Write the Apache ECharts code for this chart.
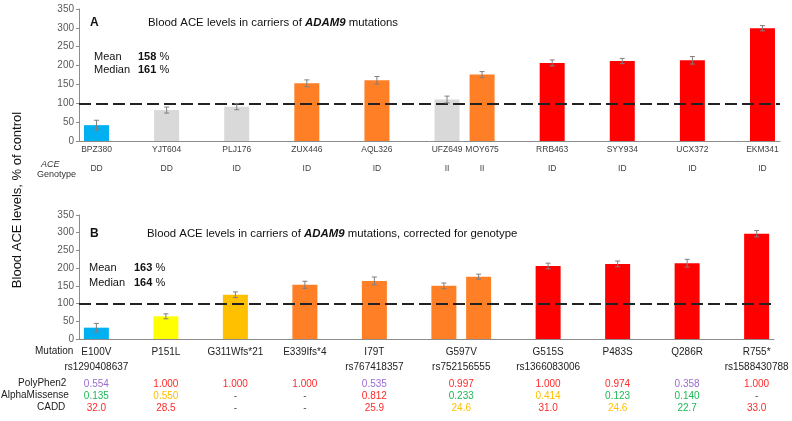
<!DOCTYPE html>
<html>
<head>
<meta charset="utf-8">
<script src="https://cdn.jsdelivr.net/npm/echarts@6/dist/echarts.min.js"></script>
<style>
  html, body { margin: 0; padding: 0; background: #fff; }
  #chart { width: 792px; height: 421px; }
</style>
</head>
<body>
<div id="chart"></div>
<script>
// panel A: one slot per sample, '' = empty slot between bars
const topSlots = ['BPZ380', '', 'YJT604', '', 'PLJ176', '', 'ZUX446', '', 'AQL326', '',
  'UFZ649', 'MOY675', '', 'RRB463', '', 'SYY934', '', 'UCX372', '', 'EKM341']
const topValues = [42, 82, 91, 153, 161, 110, 176, 207, 212, 214, 299]
const topErrors = [13, 8, 8, 9, 10, 9, 8, 8, 7, 10, 7]
const topGenotype = ['DD', 'DD', 'ID', 'ID', 'ID', 'II', 'II', 'ID', 'ID', 'ID', 'ID']
const topColors = ['#00B0F0', '#D9D9D9', '#D9D9D9', '#FF7F27', '#FF7F27', '#D9D9D9',
  '#FF7F27', '#FF0000', '#FF0000', '#FF0000', '#FF0000']
const topMean = 158
const topMedian = 161

// panel B
const bottomSlots = ['E100V', '', 'P151L', '', 'G311Wfs*21', '', 'E339Ifs*4', '', 'I79T', '',
  'G597V', 'G597V', '', 'G515S', '', 'P483S', '', 'Q286R', '', 'R755*']
const bottomValues = [32, 64, 125, 153, 164, 150, 176, 206, 212, 214, 297]
const bottomErrors = [12, 7, 8, 10, 11, 8, 7, 8, 8, 11, 9]
const bottomColors = ['#00B0F0', '#FFFF00', '#FFC000', '#FF7F27', '#FF7F27', '#FF7F27',
  '#FF7F27', '#FF0000', '#FF0000', '#FF0000', '#FF0000']
const bottomMean = 163
const bottomMedian = 164

const mutations = ['E100V', 'P151L', 'G311Wfs*21', 'E339Ifs*4', 'I79T', 'G597V', 'G515S', 'P483S', 'Q286R', 'R755*']
const rsIds = ['rs1290408637', '', '', '', 'rs767418357', 'rs752156555', 'rs1366083006', '', '', 'rs1588430788']
const polyphen = ['0.554', '1.000', '1.000', '1.000', '0.535', '0.997', '1.000', '0.974', '0.358', '1.000']
const polyTone = ['p', 'r', 'r', 'r', 'p', 'r', 'r', 'r', 'p', 'r']
const alphaMissense = ['0.135', '0.550', '-', '-', '0.812', '0.233', '0.414', '0.123', '0.140', '-']
const alphaTone = ['g', 'y', 'n', 'n', 'r', 'g', 'y', 'g', 'g', 'n']
const cadd = ['32.0', '28.5', '-', '-', '25.9', '24.6', '31.0', '24.6', '22.7', '33.0']
const caddTone = ['r', 'r', 'n', 'n', 'r', 'y', 'r', 'y', 'g', 'r']

const FONT = 'Liberation Sans, Arial, sans-serif'
const toneColors = { p: '#9B6BD0', r: '#FF2A2A', g: '#1DB954', y: '#FFC000', n: '#555', k: '#222' }

// spread per-sample values over the slots
const toSlots = (slots, vals) => {
  let i = 0
  return slots.map(s => (s === '' ? '-' : vals[i++]))
}
const barData = (slots, vals, colors) => {
  let i = 0
  return slots.map(s => {
    if (s === '') return '-'
    const v = { value: vals[i], itemStyle: { color: colors[i] } }
    i++
    return v
  })
}
const errData = (slots, vals, errs) => {
  const out = []
  let i = 0
  slots.forEach((s, k) => {
    if (s === '') return
    out.push([k, vals[i] - errs[i], vals[i] + errs[i]])
    i++
  })
  return out
}

// label rows of panel B sit on a 41-point axis (boundaryGap false), centred on their bars
const bottomPoints = Array.from({ length: 41 }, (_, i) => String(i))
const rowPoint = mutations.map(m => {
  const ks = []
  bottomSlots.forEach((s, k) => { if (s === m) ks.push(2 * k + 1) })
  return ks.reduce((a, b) => a + b, 0) / ks.length
})
const rowLabels = (vals, tones) => {
  const out = new Array(41).fill('')
  mutations.forEach((m, i) => {
    if (vals[i] === '') return
    out[rowPoint[i]] = '{' + (tones ? tones[i] : 'k') + '|' + vals[i] + '}'
  })
  return out
}

const rich = {}
Object.keys(toneColors).forEach(k => {
  rich[k] = { color: toneColors[k], fontSize: 10, fontFamily: FONT, lineHeight: 12 }
})

const renderErr = (params, api) => {
  const lo = api.coord([api.value(0), api.value(1)])
  const hi = api.coord([api.value(0), api.value(2)])
  const style = { stroke: '#7F7F7F', lineWidth: 1 }
  return {
    type: 'group',
    children: [
      { type: 'line', shape: { x1: lo[0], y1: lo[1], x2: hi[0], y2: hi[1] }, style },
      { type: 'line', shape: { x1: lo[0] - 2.5, y1: lo[1], x2: lo[0] + 2.5, y2: lo[1] }, style },
      { type: 'line', shape: { x1: hi[0] - 2.5, y1: hi[1], x2: hi[0] + 2.5, y2: hi[1] }, style }
    ]
  }
}

const yAxisBase = {
  type: 'value',
  min: 0,
  max: 350,
  interval: 50,
  axisLine: { show: true, lineStyle: { color: '#8C8C8C' } },
  axisTick: { show: true, length: 3, lineStyle: { color: '#8C8C8C' } },
  axisLabel: { fontSize: 10, color: '#595959', fontFamily: FONT, margin: 5 },
  splitLine: { show: false }
}

const refLine = {
  silent: true,
  symbol: ['none', 'none'],
  label: { show: false },
  lineStyle: { color: '#222', width: 2, type: [12, 5] },
  data: [{ yAxis: 100 }]
}

const labelAxis = (grid, data, offset) => ({
  type: 'category',
  gridIndex: grid,
  data,
  boundaryGap: false,
  position: 'bottom',
  offset,
  axisLine: { show: false },
  axisTick: { show: false },
  axisLabel: { interval: 0, margin: 0, formatter: v => v, rich }
})

const chart = echarts.init(document.getElementById('chart'))

const option = {
  animation: false,
  textStyle: { fontFamily: FONT },
  grid: [
    { left: 79, top: 9, width: 701, height: 132 },
    { left: 79, top: 215, width: 695, height: 124 }
  ],
  xAxis: [
    {
      type: 'category',
      gridIndex: 0,
      data: topSlots,
      axisLine: { lineStyle: { color: '#8C8C8C' } },
      axisTick: { show: false },
      axisLabel: { interval: 0, fontSize: 8.5, color: '#404040', margin: 4, fontFamily: FONT }
    },
    {
      type: 'category',
      gridIndex: 0,
      data: toSlots(topSlots, topGenotype).map(v => (v === '-' ? '' : v)),
      position: 'bottom',
      offset: 19,
      axisLine: { show: false },
      axisTick: { show: false },
      axisLabel: { interval: 0, fontSize: 8.5, color: '#404040', margin: 4, fontFamily: FONT }
    },
    {
      type: 'category',
      gridIndex: 1,
      data: bottomSlots.map((s, k) => s + '#' + k),
      axisLine: { lineStyle: { color: '#8C8C8C' } },
      axisTick: { show: false },
      axisLabel: { show: false }
    },
    labelAxis(1, rowLabels(mutations, null), 7),
    labelAxis(1, rowLabels(rsIds, null), 22),
    labelAxis(1, rowLabels(polyphen, polyTone), 39),
    labelAxis(1, rowLabels(alphaMissense, alphaTone), 51),
    labelAxis(1, rowLabels(cadd, caddTone), 63)
  ],
  yAxis: [
    Object.assign({ gridIndex: 0 }, yAxisBase),
    Object.assign({ gridIndex: 1 }, yAxisBase)
  ],
  series: [
    {
      type: 'bar',
      xAxisIndex: 0,
      yAxisIndex: 0,
      barWidth: 25,
      data: barData(topSlots, topValues, topColors),
      markLine: refLine
    },
    {
      type: 'custom',
      xAxisIndex: 0,
      yAxisIndex: 0,
      renderItem: renderErr,
      encode: { x: 0, y: [1, 2] },
      data: errData(topSlots, topValues, topErrors),
      z: 5
    },
    {
      type: 'bar',
      xAxisIndex: 2,
      yAxisIndex: 1,
      barWidth: 25,
      data: barData(bottomSlots, bottomValues, bottomColors),
      markLine: refLine
    },
    {
      type: 'custom',
      xAxisIndex: 2,
      yAxisIndex: 1,
      renderItem: renderErr,
      encode: { x: 0, y: [1, 2] },
      data: errData(bottomSlots, bottomValues, bottomErrors),
      z: 5
    }
  ],
  graphic: [
    {
      type: 'text', left: 90, top: 17,
      style: { text: 'A', font: 'bold 12px ' + FONT, fill: '#111' }
    },
    {
      type: 'text', left: 148, top: 17,
      style: {
        text: 'Blood ACE levels in carriers of {g|ADAM9} mutations',
        font: '11.4px ' + FONT, fill: '#111',
        rich: { g: { fontStyle: 'italic', fontWeight: 'bold', fontSize: 11.4, fontFamily: FONT, fill: '#111' } }
      }
    },
    { type: 'text', left: 94, top: 51, style: { text: 'Mean', font: '11px ' + FONT, fill: '#111' } },
    {
      type: 'text', left: 138, top: 51,
      style: { text: '{b|' + topMean + '} %', font: '11px ' + FONT, fill: '#111',
        rich: { b: { fontWeight: 'bold', fontSize: 11, fontFamily: FONT, fill: '#111' } } }
    },
    { type: 'text', left: 94, top: 64, style: { text: 'Median', font: '11px ' + FONT, fill: '#111' } },
    {
      type: 'text', left: 138, top: 64,
      style: { text: '{b|' + topMedian + '} %', font: '11px ' + FONT, fill: '#111',
        rich: { b: { fontWeight: 'bold', fontSize: 11, fontFamily: FONT, fill: '#111' } } }
    },
    { type: 'text', left: 41, top: 160, style: { text: 'ACE', font: 'italic 9px ' + FONT, fill: '#333' } },
    { type: 'text', left: 37, top: 170, style: { text: 'Genotype', font: '9px ' + FONT, fill: '#333' } },
    {
      type: 'text', left: 90, top: 228,
      style: { text: 'B', font: 'bold 12px ' + FONT, fill: '#111' }
    },
    {
      type: 'text', left: 147, top: 228,
      style: {
        text: 'Blood ACE levels in carriers of {g|ADAM9} mutations, corrected for genotype',
        font: '11.4px ' + FONT, fill: '#111',
        rich: { g: { fontStyle: 'italic', fontWeight: 'bold', fontSize: 11.4, fontFamily: FONT, fill: '#111' } }
      }
    },
    { type: 'text', left: 89, top: 262, style: { text: 'Mean', font: '11px ' + FONT, fill: '#111' } },
    {
      type: 'text', left: 134, top: 262,
      style: { text: '{b|' + bottomMean + '} %', font: '11px ' + FONT, fill: '#111',
        rich: { b: { fontWeight: 'bold', fontSize: 11, fontFamily: FONT, fill: '#111' } } }
    },
    { type: 'text', left: 89, top: 277, style: { text: 'Median', font: '11px ' + FONT, fill: '#111' } },
    {
      type: 'text', left: 134, top: 277,
      style: { text: '{b|' + bottomMedian + '} %', font: '11px ' + FONT, fill: '#111',
        rich: { b: { fontWeight: 'bold', fontSize: 11, fontFamily: FONT, fill: '#111' } } }
    },
    { type: 'text', left: 35, top: 346, style: { text: 'Mutation', font: '10px ' + FONT, fill: '#222' } },
    { type: 'text', left: 18, top: 378, style: { text: 'PolyPhen2', font: '10px ' + FONT, fill: '#222' } },
    { type: 'text', left: 1, top: 390, style: { text: 'AlphaMissense', font: '10px ' + FONT, fill: '#222' } },
    { type: 'text', left: 37, top: 402, style: { text: 'CADD', font: '10px ' + FONT, fill: '#222' } },
    {
      type: 'text', x: 17, y: 200, rotation: Math.PI / 2,
      style: { text: 'Blood ACE levels, % of control', font: '13px ' + FONT, fill: '#111',
        align: 'center', verticalAlign: 'middle' }
    }
  ]
}

chart.setOption(option)
</script>
</body>
</html>
